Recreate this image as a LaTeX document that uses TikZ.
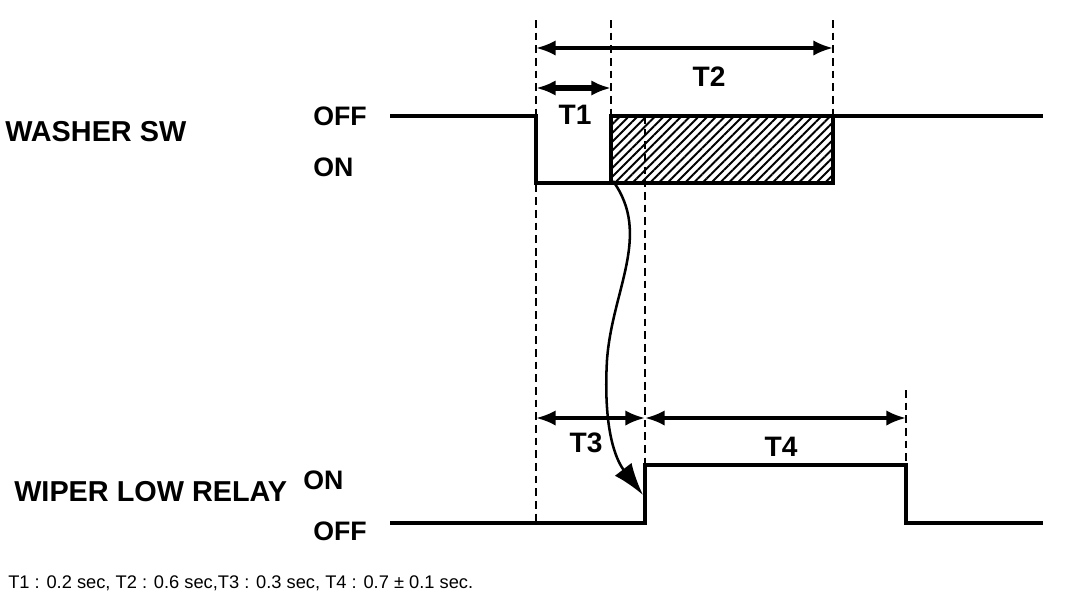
\documentclass[tikz,border=0pt]{standalone}
\usepackage{fontspec}
\setmainfont{Liberation Sans}
\usetikzlibrary{arrows.meta,patterns.meta,positioning}

\begin{document}
\begin{tikzpicture}[
    x=0.025cm, y=-0.025cm,
    signal/.style={line width=2.4pt},
    guide/.style={line width=0.8pt, dash pattern=on 5.5pt off 3.5pt},
    span/.style={{Latex[length=14pt,width=11pt]}-{Latex[length=14pt,width=11pt]}, line width=2.4pt},
    cause/.style={-{Latex[length=23pt,width=15pt]}, line width=1.8pt},
    hatch/.style={pattern={Lines[angle=45,distance=4.4pt,line width=1.4pt]}},
    signame/.style={font=\fontsize{20.5}{24}\selectfont\bfseries, anchor=west, inner sep=0pt},
    level/.style={font=\fontsize{19}{22}\selectfont\bfseries, anchor=west, inner sep=0pt},
    tlabel/.style={font=\fontsize{20}{24}\selectfont\bfseries, inner sep=0pt},
  ]
    \useasboundingbox (0,0) rectangle (1072,614);

    % Signal names and levels
    \node[signame] (washer) at (5,132) {WASHER SW};
    \node[signame] (relay) at (14,492) {WIPER LOW RELAY};
    \node[level] (wsoff) at (313,116) {OFF};
    \node[level] (wson) at (313,167) {ON};
    \node[level] (rlon) at (303,480) {ON};
    \node[level] (rloff) at (313,531) {OFF};

    % Key instants
    \coordinate (ws0) at (390,116);
    \coordinate (ws1) at (536,116);
    \coordinate (ws2) at (536,183);
    \coordinate (bxA) at (611,116);
    \coordinate (bxB) at (833,183);
    \coordinate (ws5) at (1043,116);
    \coordinate (rl0) at (390,523);
    \coordinate (rl1) at (645,523);
    \coordinate (rl2) at (645,465);
    \coordinate (rl3) at (906,465);
    \coordinate (rl4) at (906,523);
    \coordinate (rl5) at (1043,523);

    % Guide lines
    \draw[guide] (536,20) -- (536,525);
    \draw[guide] (611,20) -- (bxA);
    \draw[guide] (833,20) -- (833,116);
    \draw[guide] (645,116) -- (rl2);
    \draw[guide] (906,390) -- (rl3);

    % Washer switch
    \draw[signal] (ws0) -- (ws1) -- (ws2) -- (bxA |- bxB);
    \draw[signal, hatch] (bxA) rectangle (bxB);
    \draw[signal] (bxA -| bxB) -- (ws5);

    % Wiper low relay
    \draw[signal] (rl0) -- (rl1) -- (rl2) -- (rl3) -- (rl4) -- (rl5);

    % Timing spans
    \coordinate (t2a) at (536,48);
    \coordinate (t2b) at (833,48);
    \coordinate (t1a) at (536,88);
    \coordinate (t1b) at (611,88);
    \coordinate (t3a) at (536,418);
    \coordinate (t3b) at (645,418);
    \coordinate (t4b) at (906,418);
    \draw[span] (t2a) -- (t2b);
    \draw[span, line width=3.8pt] (t1a) -- (t1b);
    \draw[span] (t3a) -- (t3b);
    \draw[span] (t3b) -- (t4b);
    \node[tlabel] (lt2) at (709,77) {T2};
    \node[tlabel] (lt1) at (575,115) {T1};
    \node[tlabel] (lt3) at (586,443) {T3};
    \node[tlabel] (lt4) at (781,447) {T4};

    % Washer on triggers relay
    \coordinate (src) at (613,181);
    \coordinate (dst) at (643,495);
    \draw[cause] (src) .. controls (652,235) and (612,290) .. (607,360)
      .. controls (603,430) and (616,460) .. (dst);

    % Note
    \node[anchor=west, inner sep=0pt, font=\fontsize{13}{15}\selectfont] (note) at (8,583)
      {T1 : 0.2 sec, T2 : 0.6 sec,T3 : 0.3 sec, T4 : 0.7 ± 0.1 sec.};
\end{tikzpicture}
\end{document}
